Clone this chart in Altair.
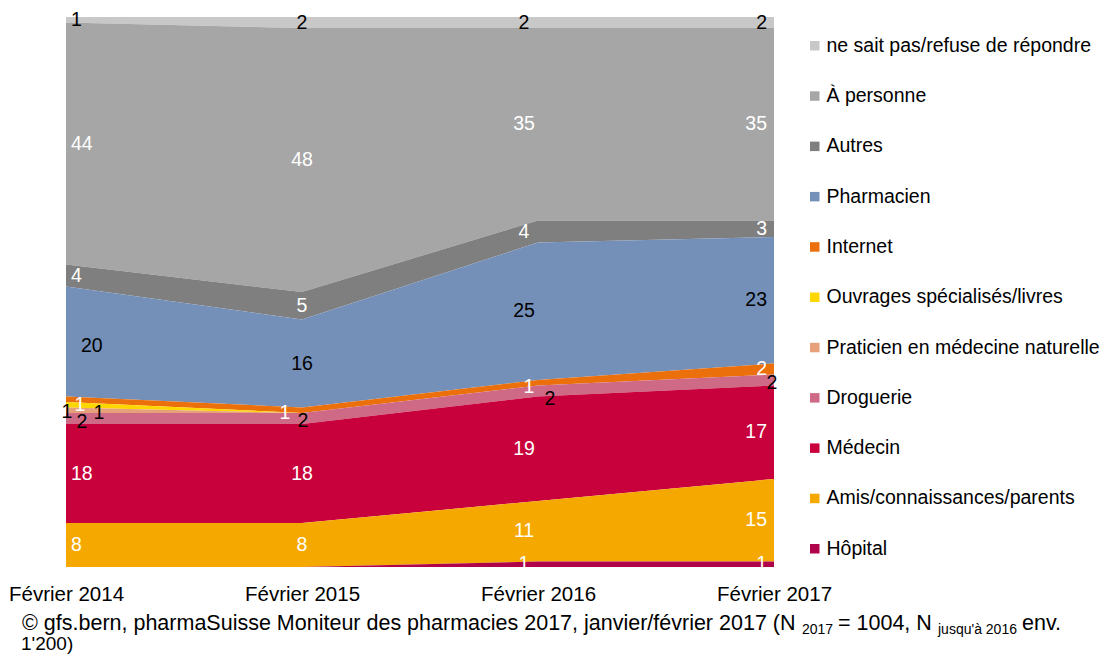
import altair as alt
import pandas as pd

years = ["Février 2014", "Février 2015", "Février 2016", "Février 2017"]

# series (top of stack first, as in legend)
nsp = [1, 2, 2, 2]
a_personne = [44, 48, 35, 35]
autres = [4, 5, 4, 3]
pharmacien = [20, 16, 25, 23]
internet = [1, 1, 1, 2]
ouvrages = [1, 0, 0, 0]
praticien = [1, 0, 0, 0]
droguerie = [2, 2, 2, 2]
medecin = [18, 18, 19, 17]
amis = [8, 8, 11, 15]
hopital = [0, 0, 1, 1]

categories = [
    "ne sait pas/refuse de répondre", "À personne", "Autres", "Pharmacien",
    "Internet", "Ouvrages spécialisés/livres", "Praticien en médecine naturelle",
    "Droguerie", "Médecin", "Amis/connaissances/parents", "Hôpital",
]
series = [nsp, a_personne, autres, pharmacien, internet, ouvrages, praticien,
          droguerie, medecin, amis, hopital]
colors = ["#C8C8C8", "#A6A6A6", "#7F7F7F", "#7590B8", "#EB6F0A", "#FFD700",
          "#E6A07A", "#CE6A85", "#C8003C", "#F5A800", "#B0044A"]
black_label_cats = ["ne sait pas/refuse de répondre", "Pharmacien",
                    "Ouvrages spécialisés/livres", "Praticien en médecine naturelle",
                    "Droguerie"]

rows = []
n = len(categories)
for i, (cat, vals) in enumerate(zip(categories, series)):
    for y, v in zip(years, vals):
        rows.append({"year": y, "cat": cat, "value": v, "ord": n - 1 - i})
df = pd.DataFrame(rows)

FONT = "Liberation Sans"

x_enc = alt.X("year:O", scale=alt.Scale(type="point", padding=0, domain=years),
              axis=alt.Axis(title=None, labelAngle=0, ticks=False, domain=False,
                            labelFontSize=20.5, labelFont=FONT, labelColor="#000000",
                            labelPadding=17, grid=False))
y_scale = alt.Scale(domain=[0, 100], nice=False, zero=True)

area = alt.Chart(df).mark_area(opacity=1).encode(
    x=x_enc,
    y=alt.Y("value:Q", stack="zero", scale=y_scale, axis=None),
    color=alt.Color("cat:N", scale=alt.Scale(domain=categories, range=colors),
                    legend=alt.Legend(title=None, orient="none", legendX=739, legendY=19,
                                      symbolType="square", symbolSize=90,
                                      symbolStrokeWidth=0, labelFontSize=19.5,
                                      labelFont=FONT, labelColor="#000000",
                                      rowPadding=29.3, labelOffset=2, padding=0,
                                      labelLimit=400)),
    order=alt.Order("ord:Q", sort="ascending"),
)

base_lab = alt.Chart(df).transform_window(
    cum="sum(value)", sort=[alt.SortField("ord")], groupby=["year"], frame=[None, 0]
).transform_calculate(
    mid="datum.cum - datum.value / 2"
).transform_filter("datum.value > 0")

label_color = alt.condition(
    alt.FieldOneOfPredicate(field="cat", oneOf=black_label_cats),
    alt.value("#000000"), alt.value("#FFFFFF"))

# label placement style: per year default, plus overrides for crowded small labels
year_style = {
    "Février 2014": ("left", 5, 0),
    "Février 2015": ("center", 0, 0),
    "Février 2016": ("center", -14, 0),
    "Février 2017": ("right", -7, 0),
}
overrides = {
    ("Février 2014", "Pharmacien"): ("left", 15, 4),
    ("Février 2014", "Praticien en médecine naturelle"): ("center", 1, 2),
    ("Février 2014", "Ouvrages spécialisés/livres"): ("center", 33, 8),
    ("Février 2014", "Internet"): ("center", 14, 6),
    ("Février 2014", "Droguerie"): ("center", 16, 3),
    ("Février 2015", "Internet"): ("center", -17, 3),
    ("Février 2015", "Droguerie"): ("center", 1, 2),
    ("Février 2016", "Droguerie"): ("center", 12, 8),
    ("Février 2016", "Internet"): ("center", -9, 4),
    ("Février 2017", "Droguerie"): ("center", -2, 3),
}

label_layers = []
for yr, (al, dx, dy) in year_style.items():
    excl = [c for (y2, c) in overrides if y2 == yr]
    flt = f"datum.year === '{yr}'"
    for c in excl:
        flt += f" && datum.cat !== '{c}'"
    label_layers.append(
        base_lab.transform_filter(flt).mark_text(
            align=al, baseline="middle", dx=dx, dy=dy, fontSize=19.5, font=FONT
        ).encode(x=alt.X("year:O", scale=alt.Scale(type="point", padding=0, domain=years)),
                 y=alt.Y("mid:Q", scale=y_scale), text="value:Q", color=label_color)
    )
for (yr, c), (al, dx, dy) in overrides.items():
    label_layers.append(
        base_lab.transform_filter(f"datum.year === '{yr}' && datum.cat === '{c}'").mark_text(
            align=al, baseline="middle", dx=dx, dy=dy, fontSize=19.5, font=FONT
        ).encode(x=alt.X("year:O", scale=alt.Scale(type="point", padding=0, domain=years)),
                 y=alt.Y("mid:Q", scale=y_scale), text="value:Q", color=label_color)
    )

# footer source note (with subscripts)
footer_parts = [
    ("© gfs.bern, pharmaSuisse Moniteur des pharmacies 2017, janvier/février 2017 (N", -44, 607, 21.5),
    ("2017", 736, 613, 14),
    ("= 1004, N", 772, 607, 21.5),
    ("jusqu'à 2016", 872, 613, 14),
    ("env.", 956, 607, 21.5),
    ("1'200)", -45, 627, 19),
]
footer_layers = []
for txt, x, y, fs in footer_parts:
    footer_layers.append(
        alt.Chart(pd.DataFrame({"t": [txt]})).mark_text(
            align="left", baseline="middle", fontSize=fs, font=FONT, color="#000000"
        ).encode(x=alt.value(x), y=alt.value(y), text="t:N")
    )

chart = alt.layer(area, *label_layers, *footer_layers).resolve_scale(
    color="independent"
).properties(
    width=708, height=550,
    autosize=alt.AutoSizeParams(type="none"),
    padding={"left": 58, "top": 9, "right": 330, "bottom": 88},
    background="white",
).configure_view(stroke=None)

chart.save("out.html", embed_options={"renderer": "svg", "actions": False})
